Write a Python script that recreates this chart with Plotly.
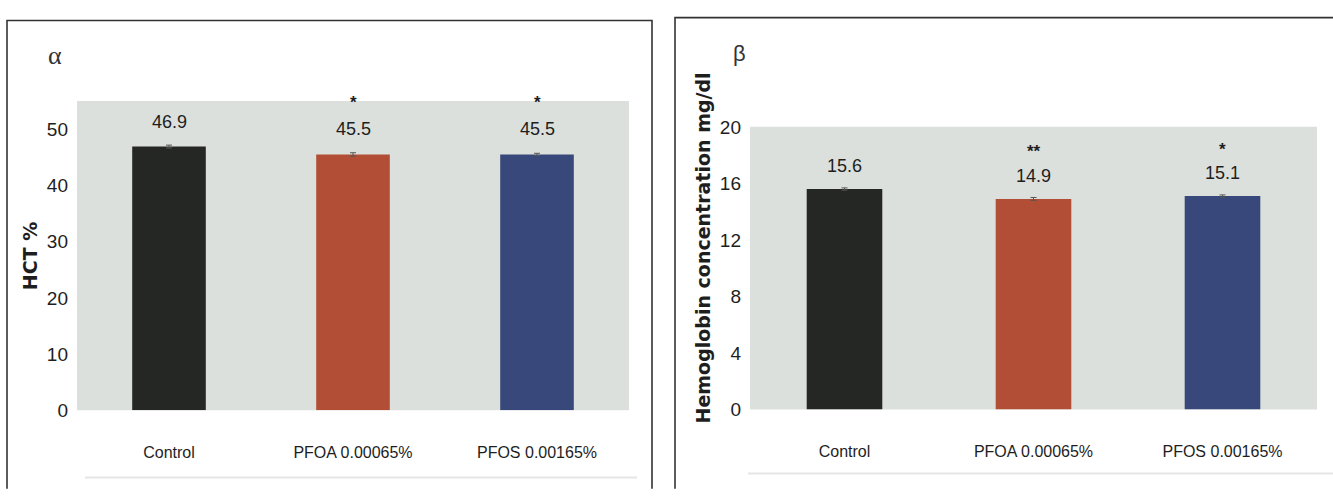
import plotly.graph_objects as go

W, H = 1333, 497

categories = ["Control", "PFOA 0.00065%", "PFOS 0.00165%"]
hct_means = [46.9, 45.5, 45.5]
hct_err = [0.25, 0.3, 0.2]
hct_sig = ["", "*", "*"]
hb_means = [15.6, 14.9, 15.1]
hb_err = [0.08, 0.1, 0.08]
hb_sig = ["", "**", "*"]
bar_colors = ["#252725", "#b14e35", "#38487b"]

hct_ticks = [0, 10, 20, 30, 40, 50]
hb_ticks = [0, 4, 8, 12, 16, 20]

SANS = "Liberation Sans, Arial, sans-serif"
TEXT = "#1e1e1e"
PLOT_BG = "#dce0dc"


def px_x(v):
    return v / W


def px_y(v):
    return 1 - v / H


fig = go.Figure()

panels = [
    dict(xa="x", ya="y", means=hct_means, err=hct_err, sig=hct_sig,
         val_shift=25, star_shift=52),
    dict(xa="x2", ya="y2", means=hb_means, err=hb_err, sig=hb_sig,
         val_shift=23, star_shift=47),
]

for p in panels:
    fig.add_trace(go.Bar(
        x=categories, y=p["means"], width=0.4,
        marker=dict(color=bar_colors, line=dict(width=0)),
        error_y=dict(type="data", array=p["err"], visible=True,
                     color="#555555", thickness=1, width=3),
        xaxis=p["xa"], yaxis=p["ya"], showlegend=False, hoverinfo="skip",
    ))

annotations = []
for p in panels:
    for cat, val, star in zip(categories, p["means"], p["sig"]):
        annotations.append(dict(
            x=cat, y=val, xref=p["xa"], yref=p["ya"], text=f"{val:.1f}",
            showarrow=False, yanchor="middle", yshift=p["val_shift"],
            font=dict(family=SANS, size=18, color=TEXT)))
        if star:
            annotations.append(dict(
                x=cat, y=val, xref=p["xa"], yref=p["ya"], text=f"<b>{star}</b>",
                showarrow=False, yanchor="middle", yshift=p["star_shift"],
                font=dict(family=SANS, size=17, color=TEXT)))

# axis titles
annotations.append(dict(
    x=px_x(30), y=px_y(257), xref="paper", yref="paper", text="<b>HCT %</b>",
    textangle=-90, showarrow=False, xanchor="center", yanchor="middle",
    font=dict(family="DejaVu Sans, sans-serif", size=19, color=TEXT)))
annotations.append(dict(
    x=px_x(703), y=px_y(249), xref="paper", yref="paper",
    text="<b>Hemoglobin concentration mg/dl</b>",
    textangle=-90, showarrow=False, xanchor="center", yanchor="middle",
    font=dict(family="DejaVu Sans, sans-serif", size=19, color=TEXT)))

# panel letters
annotations.append(dict(
    x=px_x(55), y=px_y(48), xref="paper", yref="paper", text="α",
    showarrow=False, xanchor="center", yanchor="middle",
    font=dict(family="Liberation Serif, serif", size=26, color="#333333")))
annotations.append(dict(
    x=px_x(739), y=px_y(45), xref="paper", yref="paper", text="β",
    showarrow=False, xanchor="center", yanchor="middle",
    font=dict(family=SANS, size=22, color="#333333")))

shapes = [
    # plot area fills
    dict(type="rect", xref="paper", yref="paper",
         x0=px_x(77), x1=px_x(629), y0=px_y(418), y1=px_y(95),
         fillcolor=PLOT_BG, line=dict(width=0), layer="below"),
    dict(type="rect", xref="paper", yref="paper",
         x0=px_x(750), x1=px_x(1317), y0=px_y(417), y1=px_y(122),
         fillcolor=PLOT_BG, line=dict(width=0), layer="below"),
    # panel frames
    dict(type="path", xref="paper", yref="paper",
         path=f"M {px_x(7)} {px_y(500)} L {px_x(7)} {px_y(11)} L {px_x(652)} {px_y(11)} L {px_x(652)} {px_y(500)}",
         line=dict(color="#333333", width=1.6)),
    dict(type="path", xref="paper", yref="paper",
         path=f"M {px_x(675)} {px_y(500)} L {px_x(675)} {px_y(8)} L {px_x(1340)} {px_y(8)}",
         line=dict(color="#333333", width=1.6)),
    # faint lower rules
    dict(type="line", xref="paper", yref="paper",
         x0=px_x(85), x1=px_x(637), y0=px_y(488), y1=px_y(488),
         line=dict(color="#e6e6e6", width=2)),
    dict(type="line", xref="paper", yref="paper",
         x0=px_x(748), x1=px_x(1333), y0=px_y(484), y1=px_y(484),
         line=dict(color="#e6e6e6", width=2)),
]

tickfont = dict(family=SANS, size=19, color=TEXT)
catfont = dict(family=SANS, size=16, color=TEXT)

fig.update_layout(
    width=W, height=H,
    margin=dict(l=0, r=0, t=0, b=0),
    paper_bgcolor="white",
    plot_bgcolor="rgba(0,0,0,0)",
    annotations=annotations,
    shapes=shapes,
    xaxis=dict(domain=[px_x(77), px_x(629)], anchor="y", range=[-0.5, 2.5],
               showgrid=False, zeroline=False, showline=False, ticks="",
               tickfont=catfont, ticklabelstandoff=31, fixedrange=True),
    yaxis=dict(domain=[px_y(418), px_y(95)], anchor="x", range=[0, 55],
               tickvals=hct_ticks, showgrid=False, zeroline=False, showline=False,
               ticks="", tickfont=tickfont, ticklabelstandoff=8, fixedrange=True),
    xaxis2=dict(domain=[px_x(750), px_x(1317)], anchor="y2", range=[-0.5, 2.5],
                showgrid=False, zeroline=False, showline=False, ticks="",
                tickfont=catfont, ticklabelstandoff=31, fixedrange=True),
    yaxis2=dict(domain=[px_y(417), px_y(122)], anchor="x2", range=[0, 20],
                tickvals=hb_ticks, showgrid=False, zeroline=False, showline=False,
                ticks="", tickfont=tickfont, ticklabelstandoff=8, fixedrange=True),
)

fig.write_html("out.html")
